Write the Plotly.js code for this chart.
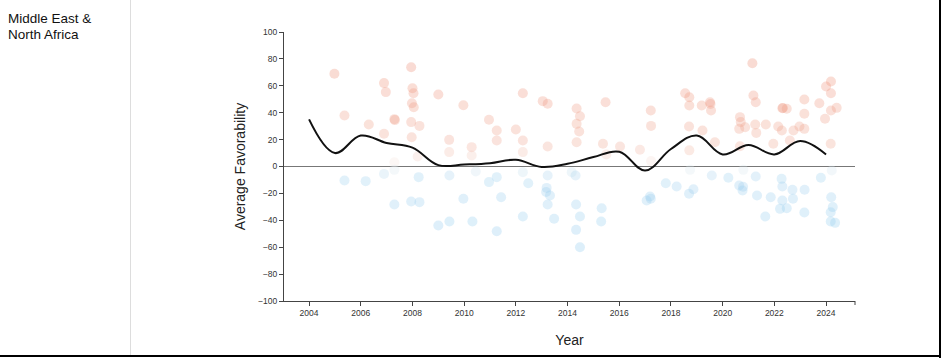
<!DOCTYPE html>
<html>
<head>
<meta charset="utf-8">
<script src="https://cdn.plot.ly/plotly-3.0.1.min.js"></script>
<style>
  html, body { margin:0; padding:0; background:#fff; }
  #wrap { position:relative; width:941px; height:358px; overflow:hidden; background:#fff; }
  #label { position:absolute; left:8px; top:11px; font-family:"Liberation Sans", Arial, sans-serif; font-size:13.5px; line-height:16px; color:#111; }
  #vline { position:absolute; left:130px; top:0; width:1px; height:355px; background:#ddd; }
  #bline { position:absolute; left:0; top:355px; width:941px; height:2px; background:#000; }
  #rline { position:absolute; left:939px; top:0; width:2px; height:358px; background:#000; }
  #chart { position:absolute; left:0; top:0; width:941px; height:358px; }
</style>
</head>
<body>
<div id="wrap">
  <div id="chart"></div>
  <div id="label">Middle East &amp;<br>North Africa</div>
  <div id="vline"></div>
  <div id="bline"></div>
  <div id="rline"></div>
</div>
<script>
// Individual observations (year, favorability)
const pointYears = [
  2004.98,2005.37,2006.31,2006.90,2006.97,2006.90,2007.30,2007.32,2007.95,2008.00,2008.04,2007.98,2008.05,2007.95,2008.27,2007.97,2007.30,2008.20,
  2009.00,2009.42,2009.42,2009.97,2010.29,2010.29,2010.96,2011.26,2011.26,2012.00,2012.27,2012.27,2012.27,2013.04,2013.23,2013.23,2014.35,2014.48,2014.35,2014.45,2014.35,2015.47,2015.37,2015.50,
  2016.03,2016.80,2017.22,2017.23,2017.23,2018.55,2018.71,2018.71,2018.70,2018.71,2019.19,2019.51,2019.53,2019.55,2019.22,2019.70,2020.67,2020.70,2020.64,2020.87,2020.67,2021.15,2021.19,2021.28,2021.26,2021.67,2021.30,2021.96,2022.15,2022.31,2022.33,2022.48,2022.29,2022.60,2022.74,2022.97,2023.16,2023.16,2023.16,2023.74,2024.00,2024.19,2024.19,2024.19,2024.41,2023.96,2024.18,
  2005.37,2006.19,2006.90,2007.30,2007.30,2007.95,2008.27,2008.24,
  2009.00,2009.43,2009.43,2009.97,2010.32,2010.45,2010.96,2011.26,2011.43,2011.26,2012.27,2012.27,2012.48,2013.23,2013.19,2013.17,2013.32,2013.23,2013.48,2014.16,2014.31,2014.33,2014.48,2014.33,2014.48,2015.32,2015.30,
  2018.74,2017.80,2018.22,2017.06,2017.19,2017.22,2018.70,2018.87,2019.58,2020.22,2020.64,2020.77,2020.79,2020.80,2021.28,2021.33,2021.65,2021.86,2022.28,2022.31,2022.31,2022.22,2022.48,2022.70,2022.72,2023.17,2023.16,2023.80,2024.22,2024.20,2024.26,2024.18,2024.18,2024.35
];
const pointValues = [
  68.9,37.9,31.2,62,55.3,24.3,35.2,34.5,73.8,58.2,54.5,47,44,33,30.2,21.8,3.2,7.4,
  53.5,19.8,10.7,45.6,14.4,8.2,34.7,26.8,19.3,27.5,54.5,19.3,10.7,48.6,46.6,14.9,43.1,37.4,31.7,26,18,47.8,16.9,9,
  14.9,12.4,41.6,30.2,4,54.5,51.5,45.4,29.7,12,45.4,47.8,46.5,41.6,26.8,18,36.7,33,28,29.2,15,76.8,52.8,47.8,31.2,31.2,25,16.9,29.7,43.3,43.5,42.9,26.8,19.3,26.8,29.7,49.8,39.2,28,47,59.5,63.2,54.5,41.6,43.6,35.5,16.9,
  -10.4,-10.9,-5.5,-2.5,-28.3,-26,-26.5,-7.9,
  -43.9,-40.9,-6.7,-24,-40.9,-3.7,-11.6,-7.9,-22.8,-48.1,-37.2,-4.2,-12.4,-6.7,-15.9,-19,-21.6,-28.3,-38.9,-4.2,-6.7,-28.3,-37.2,-47.1,-60,-31,-40.9,
  -2.5,-12.4,-14.9,-25.3,-22.3,-24,-20.3,-16.9,-6.7,-8.4,-14.1,-17.8,-15,-2.5,-7.4,-21.6,-37.2,-22.8,-9.2,-14.9,-25.3,-31.5,-31,-17.3,-24,-17.3,-34.2,-8.4,-3,-22.8,-30.2,-34,-40.9,-41.9
];
// Smoothed average trend
const trendYears = [2004,2005,2006,2007,2008,2009,2010,2011,2012,2013,2014,2015,2016,2017,2018,2019,2020,2021,2022,2023,2024];
const trendValues = [35,10,23,17.5,14,1,1.5,2.5,5,-0.3,2,7,11,-3,13,23,9,16,9,19,9];
// Axis ticks
const xTicks = [2004,2006,2008,2010,2012,2014,2016,2018,2020,2022,2024];
const yTicks = [-100,-80,-60,-40,-20,0,20,40,60,80,100];

const font = "Liberation Sans, Arial, sans-serif";

const traces = [
  {
    type: 'scatter', mode: 'markers', x: pointYears, y: pointValues,
    marker: {
      size: 10, opacity: 0.3,
      color: pointValues, cmin: -100, cmax: 100,
      colorscale: [[0,'#84c6ee'],[0.46,'#9ccfee'],[0.5,'#f6f2f0'],[0.58,'#f0a58f'],[1,'#ea7d60']],
      showscale: false, line: {width: 0}
    },
    hoverinfo: 'x+y'
  },
  {
    type: 'scatter', mode: 'lines', x: trendYears, y: trendValues,
    line: {color: '#111', width: 2, shape: 'spline', smoothing: 1.1},
    hoverinfo: 'skip'
  }
];

const layout = {
  width: 941, height: 358,
  margin: {l: 284, r: 86, t: 32, b: 57},
  paper_bgcolor: 'rgba(0,0,0,0)', plot_bgcolor: 'rgba(0,0,0,0)',
  showlegend: false,
  font: {family: font, color: '#222'},
  xaxis: {
    range: [2003.03, 2025.12], tickvals: xTicks, ticktext: xTicks.map(String),
    ticks: 'outside', ticklen: 4, tickcolor: '#444', tickwidth: 1,
    showline: true, linecolor: '#444', linewidth: 1,
    showgrid: false, zeroline: false,
    tickfont: {size: 8.5, color: '#333', family: font},
    title: {text: 'Year', font: {size: 14, color: '#222', family: font}, standoff: 17}
  },
  yaxis: {
    range: [-100, 100], tickvals: yTicks,
    ticks: 'outside', ticklen: 4, tickcolor: '#444', tickwidth: 1,
    showline: true, linecolor: '#444', linewidth: 1,
    showgrid: false, zeroline: true, zerolinecolor: '#777', zerolinewidth: 1,
    tickfont: {size: 8.5, color: '#333', family: font},
    title: {text: 'Average Favorability', font: {size: 14, color: '#222', family: font}, standoff: 9}
  },
  shapes: [
    {type: 'line', xref: 'paper', yref: 'paper', x0: 1, x1: 1, y0: 0, y1: -4/269, line: {color: '#444', width: 1}}
  ]
};

Plotly.newPlot('chart', traces, layout, {staticPlot: true, displayModeBar: false});
</script>
</body>
</html>
